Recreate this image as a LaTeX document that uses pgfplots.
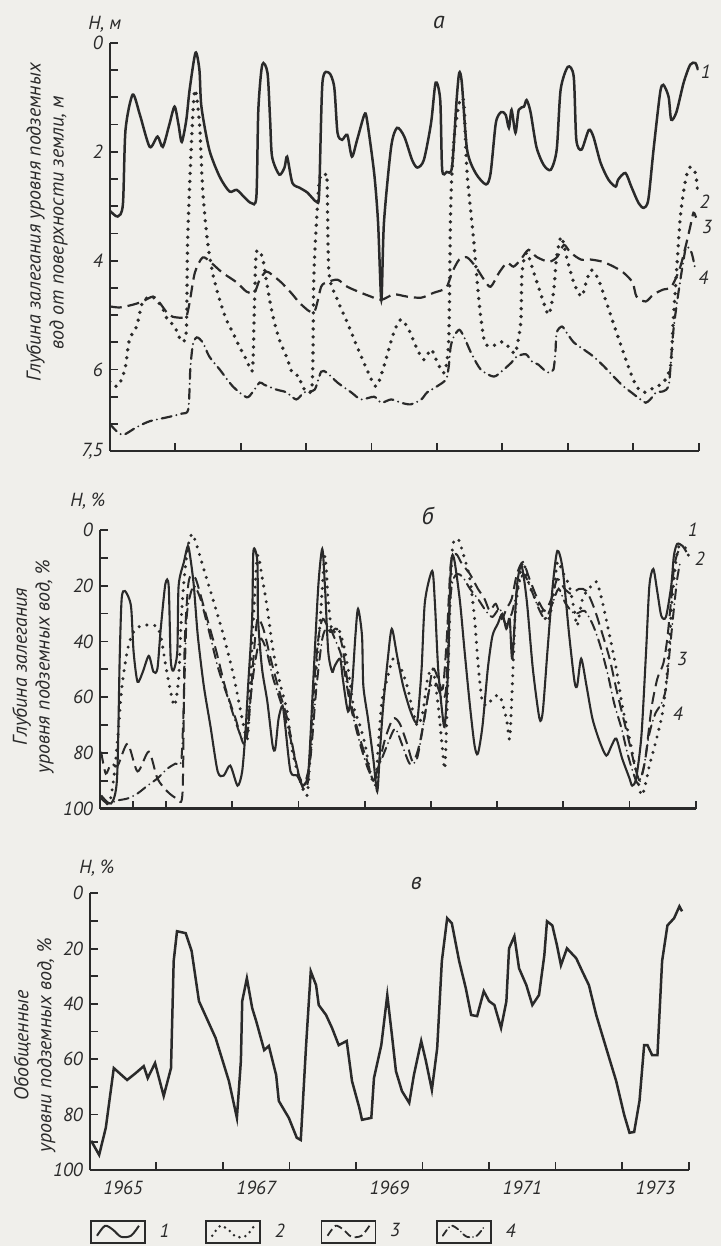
\documentclass[border=0pt]{standalone}
\usepackage{fontspec}
\setmainfont{PT Sans}
\usepackage{pgfplots}
\pgfplotsset{compat=1.18}
\definecolor{ink}{RGB}{42,42,42}
\definecolor{paper}{RGB}{240,239,235}
\begin{document}
\begin{tikzpicture}
\fill[paper] (0pt,0pt) rectangle (361pt,624pt);
\pgfplotsset{
  panel/.style={
    scale only axis, axis x line*=bottom, axis y line*=left,
    axis line style={ink, line width=1.2pt, -},
    every tick/.style={ink, line width=0.9pt},
    tick align=inside,
    major tick length=4pt, minor tick length=4pt,
    xmin=1965, xmax=1974,
    xtick={1966,1967,...,1974}, xticklabels={},
    y dir=reverse,
    tick label style={font=\fontsize{9.5}{10}\selectfont\itshape, text=ink},
    /pgf/number format/assume math mode=true,
    ylabel style={font=\fontsize{10}{11.5}\selectfont\itshape, align=center, text=ink, anchor=center},
    clip mode=individual,
  },
  s1/.style={ink, line width=1.25pt, solid, smooth, tension=0.45},
  s2/.style={ink, line width=1.9pt, line cap=round, dash pattern=on 0pt off 4pt, smooth, tension=0.45},
  s3/.style={ink, line width=1.1pt, dash pattern=on 6pt off 3pt, smooth, tension=0.45},
  s4/.style={ink, line width=1.1pt, line cap=round, dash pattern=on 5pt off 2.5pt on 0pt off 2.5pt, smooth, tension=0.45},
}
% ---------------- panel a ----------------
\begin{axis}[panel, at={(55pt,398pt)}, anchor=south west, width=295pt, height=204.5pt,
  ymin=0, ymax=7.5, ytick={0,2,4,6,7.5}, yticklabels={0,2,4,6,{7,5}},
  minor ytick={0.5,1,1.5,2.5,3,3.5,4.5,5,5.5,6.5,7},
  ylabel={Глубина залегания уровня подземных\\вод от поверхности земли, м},
  ylabel style={at={(axis description cs:-0.107,0.56)}}]
\addplot[s1] coordinates {(1965.00,3.08) (1965.12,3.19) (1965.20,2.97) (1965.24,1.60) (1965.35,0.95) (1965.46,1.32) (1965.61,1.91) (1965.73,1.72) (1965.81,1.91) (1965.91,1.50) (1965.99,1.17) (1966.05,1.50) (1966.10,1.82) (1966.17,1.41) (1966.22,0.86) (1966.31,0.18) (1966.37,0.50) (1966.40,1.17) (1966.52,1.96) (1966.68,2.46) (1966.83,2.73) (1966.94,2.70) (1967.06,2.84) (1967.16,2.94) (1967.24,2.83) (1967.27,1.23) (1967.33,0.40) (1967.41,0.55) (1967.45,1.41) (1967.48,2.09) (1967.59,2.42) (1967.67,2.29) (1967.71,2.09) (1967.79,2.57) (1967.90,2.66) (1968.02,2.75) (1968.16,2.92) (1968.20,2.75) (1968.25,0.73) (1968.35,0.55) (1968.43,0.81) (1968.48,1.65) (1968.55,1.78) (1968.63,1.69) (1968.70,2.09) (1968.78,1.78) (1968.89,1.32) (1968.93,1.41) (1969.04,2.39) (1969.10,3.30) (1969.15,4.72) (1969.19,3.30) (1969.30,1.91) (1969.39,1.56) (1969.50,1.72) (1969.62,2.15) (1969.70,2.29) (1969.80,2.15) (1969.91,1.47) (1969.98,0.73) (1970.05,1.05) (1970.08,2.33) (1970.15,2.37) (1970.23,2.28) (1970.30,1.05) (1970.34,0.55) (1970.38,0.73) (1970.46,1.96) (1970.59,2.39) (1970.75,2.60) (1970.82,2.39) (1970.90,1.47) (1970.98,1.27) (1971.05,1.32) (1971.10,1.56) (1971.14,1.23) (1971.20,1.65) (1971.25,1.23) (1971.33,1.17) (1971.37,1.05) (1971.43,1.27) (1971.52,1.91) (1971.63,2.24) (1971.74,2.33) (1971.83,1.96) (1971.89,0.86) (1972.00,0.44) (1972.09,0.62) (1972.13,1.78) (1972.21,1.96) (1972.32,1.60) (1972.39,1.72) (1972.50,2.20) (1972.62,2.51) (1972.73,2.64) (1972.77,2.51) (1972.88,2.39) (1972.97,2.64) (1973.08,2.94) (1973.16,3.03) (1973.23,2.88) (1973.31,1.96) (1973.41,0.92) (1973.46,0.77) (1973.54,0.99) (1973.58,1.41) (1973.66,1.27) (1973.77,0.73) (1973.87,0.40) (1973.95,0.37) (1973.99,0.50)};
\addplot[s2] coordinates {(1965.00,6.22) (1965.12,6.31) (1965.23,6.00) (1965.30,5.45) (1965.41,5.21) (1965.50,4.77) (1965.64,4.66) (1965.79,4.84) (1965.88,5.08) (1965.99,5.21) (1966.10,5.49) (1966.17,5.27) (1966.19,3.61) (1966.25,1.78) (1966.30,0.86) (1966.37,1.47) (1966.42,2.70) (1966.49,3.61) (1966.57,4.22) (1966.68,4.72) (1966.78,5.08) (1966.88,5.32) (1966.98,5.58) (1967.09,5.82) (1967.18,6.00) (1967.21,4.84) (1967.24,3.85) (1967.33,3.93) (1967.39,4.35) (1967.48,4.95) (1967.59,5.45) (1967.70,5.76) (1967.79,6.06) (1967.90,6.13) (1967.94,6.31) (1968.09,6.31) (1968.12,4.22) (1968.20,2.57) (1968.28,2.46) (1968.32,2.51) (1968.35,4.22) (1968.48,4.72) (1968.63,5.14) (1968.78,5.58) (1968.93,6.00) (1969.07,6.31) (1969.19,5.94) (1969.34,5.32) (1969.45,5.08) (1969.57,5.27) (1969.70,5.63) (1969.80,5.82) (1969.91,5.63) (1970.00,5.85) (1970.11,6.06) (1970.18,5.45) (1970.21,3.01) (1970.26,1.78) (1970.34,1.10) (1970.41,1.10) (1970.46,2.39) (1970.56,3.61) (1970.64,4.72) (1970.72,5.45) (1970.82,5.58) (1971.00,5.49) (1971.13,5.63) (1971.20,5.69) (1971.28,5.14) (1971.30,4.22) (1971.37,3.85) (1971.48,4.22) (1971.63,4.77) (1971.71,4.99) (1971.78,4.59) (1971.83,3.93) (1971.90,3.56) (1971.98,3.93) (1972.09,4.40) (1972.21,4.66) (1972.29,4.35) (1972.36,4.17) (1972.47,4.35) (1972.59,4.77) (1972.73,5.27) (1972.85,5.69) (1972.96,6.06) (1973.05,6.31) (1973.16,6.42) (1973.26,6.37) (1973.35,6.31) (1973.46,6.24) (1973.57,5.94) (1973.61,5.14) (1973.66,4.22) (1973.72,3.19) (1973.80,2.51) (1973.87,2.28) (1973.95,2.39) (1973.99,2.79)};
\addplot[s3] coordinates {(1965.00,4.84) (1965.15,4.86) (1965.35,4.81) (1965.50,4.75) (1965.66,4.66) (1965.76,4.77) (1965.87,4.95) (1965.96,5.03) (1966.10,5.05) (1966.17,5.03) (1966.22,4.77) (1966.30,4.22) (1966.42,3.94) (1966.55,4.04) (1966.72,4.22) (1966.94,4.40) (1967.09,4.57) (1967.21,4.59) (1967.29,4.35) (1967.39,4.20) (1967.48,4.26) (1967.62,4.40) (1967.77,4.59) (1967.93,4.81) (1968.12,4.95) (1968.23,4.48) (1968.32,4.40) (1968.48,4.35) (1968.63,4.48) (1968.84,4.59) (1968.99,4.66) (1969.15,4.72) (1969.34,4.62) (1969.54,4.66) (1969.76,4.68) (1969.95,4.59) (1970.14,4.50) (1970.23,4.22) (1970.34,3.98) (1970.46,3.94) (1970.59,4.11) (1970.72,4.35) (1970.82,4.48) (1970.95,4.22) (1971.07,4.04) (1971.17,4.11) (1971.28,3.98) (1971.40,3.80) (1971.52,3.93) (1971.71,4.02) (1971.84,3.93) (1971.94,3.71) (1972.04,3.85) (1972.20,3.98) (1972.35,3.98) (1972.53,4.02) (1972.70,4.11) (1972.85,4.22) (1972.99,4.40) (1973.05,4.66) (1973.19,4.75) (1973.31,4.62) (1973.46,4.53) (1973.57,4.50) (1973.64,4.35) (1973.72,4.11) (1973.80,3.74) (1973.87,3.38) (1973.92,3.12) (1973.96,3.21)};
\addplot[s4] coordinates {(1965.00,7.00) (1965.11,7.14) (1965.21,7.20) (1965.41,7.06) (1965.61,6.95) (1965.87,6.88) (1966.10,6.81) (1966.20,6.73) (1966.23,6.00) (1966.27,5.54) (1966.33,5.41) (1966.42,5.50) (1966.52,5.76) (1966.68,6.00) (1966.88,6.31) (1967.09,6.51) (1967.18,6.42) (1967.29,6.24) (1967.36,6.28) (1967.55,6.37) (1967.70,6.42) (1967.85,6.55) (1967.97,6.42) (1968.13,6.37) (1968.23,6.04) (1968.32,6.06) (1968.48,6.24) (1968.69,6.42) (1968.84,6.55) (1969.04,6.50) (1969.15,6.61) (1969.30,6.55) (1969.45,6.61) (1969.60,6.64) (1969.76,6.55) (1969.85,6.42) (1970.00,6.31) (1970.14,6.18) (1970.18,5.94) (1970.21,5.58) (1970.26,5.39) (1970.34,5.27) (1970.41,5.39) (1970.52,5.69) (1970.67,6.00) (1970.87,6.13) (1971.02,6.00) (1971.14,5.87) (1971.22,5.76) (1971.36,5.72) (1971.45,5.85) (1971.55,5.91) (1971.63,6.00) (1971.71,6.06) (1971.78,6.00) (1971.81,5.69) (1971.83,5.32) (1971.91,5.21) (1971.98,5.32) (1972.09,5.50) (1972.24,5.63) (1972.39,5.76) (1972.55,5.94) (1972.70,6.13) (1972.85,6.31) (1972.97,6.42) (1973.11,6.55) (1973.19,6.61) (1973.26,6.55) (1973.35,6.42) (1973.46,6.40) (1973.54,6.31) (1973.57,5.94) (1973.61,5.32) (1973.66,4.84) (1973.72,4.35) (1973.77,3.98) (1973.81,3.74) (1973.89,3.85) (1973.95,4.17)};
\node[font=\fontsize{9.5}{10}\selectfont\itshape, text=ink] at (axis description cs:0,1) [xshift=-2.5pt, yshift=9.5pt] {H, м};
\node[font=\fontsize{12}{13}\selectfont\itshape, text=ink] at (axis description cs:0.559,1) [yshift=10pt] {а};
\node[font=\fontsize{9.5}{10}\selectfont\itshape, text=ink] at (axis description cs:1.012,0.929) {1};
\node[font=\fontsize{9.5}{10}\selectfont\itshape, text=ink] at (axis description cs:1.010,0.611) {2};
\node[font=\fontsize{9.5}{10}\selectfont\itshape, text=ink] at (axis description cs:1.014,0.548) {3};
\node[font=\fontsize{9.5}{10}\selectfont\itshape, text=ink] at (axis description cs:1.008,0.425) {4};
\end{axis}
% ---------------- panel b ----------------
\begin{axis}[panel, at={(50pt,219pt)}, anchor=south west, width=298.5pt, height=139.5pt,
  ymin=0, ymax=100, ytick={0,20,...,100}, minor ytick={10,30,...,90},
  xtick={1965.5,1966,1967,...,1974},
  ylabel={Глубина залегания\\уровня подземных вод, \%},
  ylabel style={at={(axis description cs:-0.112,0.51)}}]
\addplot[s1, line width=1.05pt] coordinates {(1965.02,95.3) (1965.17,98.2) (1965.26,89.2) (1965.30,46.2) (1965.33,24.7) (1965.38,21.9) (1965.47,27.2) (1965.51,43.7) (1965.57,54.5) (1965.65,50.9) (1965.74,45.2) (1965.81,50.9) (1965.87,49.8) (1965.92,35.5) (1965.99,19.4) (1966.04,20.1) (1966.07,46.2) (1966.11,50.5) (1966.17,43.7) (1966.19,20.1) (1966.27,11.5) (1966.33,5.7) (1966.37,10.4) (1966.42,20.1) (1966.48,38.0) (1966.57,55.9) (1966.67,70.3) (1966.78,86.7) (1966.87,88.2) (1966.97,84.6) (1967.08,91.8) (1967.15,86.7) (1967.20,72.4) (1967.24,55.9) (1967.30,31.9) (1967.32,7.5) (1967.38,11.5) (1967.39,31.9) (1967.45,49.8) (1967.53,61.6) (1967.61,77.4) (1967.65,78.5) (1967.70,67.7) (1967.76,63.1) (1967.80,70.3) (1967.88,86.7) (1967.98,88.2) (1968.07,91.8) (1968.15,86.7) (1968.22,55.9) (1968.30,20.1) (1968.36,6.8) (1968.40,20.1) (1968.45,43.7) (1968.51,50.9) (1968.55,48.7) (1968.63,46.2) (1968.67,53.4) (1968.75,65.2) (1968.81,55.9) (1968.86,38.0) (1968.90,28.3) (1968.96,38.0) (1968.98,55.9) (1969.05,67.7) (1969.13,82.1) (1969.19,93.9) (1969.23,79.6) (1969.28,63.1) (1969.35,46.2) (1969.41,35.5) (1969.49,45.2) (1969.58,55.9) (1969.68,64.2) (1969.76,68.8) (1969.80,67.7) (1969.86,49.8) (1969.91,25.8) (1970.02,14.7) (1970.06,25.8) (1970.11,49.8) (1970.17,65.2) (1970.21,70.3) (1970.26,49.8) (1970.29,20.1) (1970.32,9.3) (1970.36,11.5) (1970.44,25.8) (1970.51,43.7) (1970.59,63.1) (1970.66,77.4) (1970.71,80.3) (1970.78,70.3) (1970.86,49.8) (1970.93,38.0) (1971.01,33.7) (1971.08,30.1) (1971.14,35.5) (1971.19,31.9) (1971.23,46.2) (1971.30,20.1) (1971.37,12.9) (1971.45,25.8) (1971.54,49.8) (1971.64,67.7) (1971.69,65.2) (1971.76,43.7) (1971.84,20.1) (1971.91,7.5) (1971.99,14.0) (1972.09,38.0) (1972.17,54.5) (1972.21,55.9) (1972.27,46.2) (1972.35,55.9) (1972.44,67.7) (1972.55,76.0) (1972.65,81.0) (1972.73,77.4) (1972.80,74.9) (1972.89,82.1) (1973.00,89.2) (1973.04,91.8) (1973.10,89.2) (1973.18,73.8) (1973.25,43.7) (1973.30,20.1) (1973.36,14.0) (1973.42,22.2) (1973.48,30.8) (1973.55,31.2) (1973.63,20.1) (1973.67,9.3) (1973.72,5.0) (1973.80,5.7) (1973.86,7.9)};
\addplot[s2, line width=1.7pt] coordinates {(1965.02,96.4) (1965.14,98.2) (1965.21,89.2) (1965.27,74.9) (1965.33,57.0) (1965.42,42.7) (1965.51,36.6) (1965.62,34.4) (1965.77,34.1) (1965.87,34.8) (1965.93,39.1) (1965.99,48.0) (1966.07,58.1) (1966.13,63.1) (1966.19,53.4) (1966.23,31.9) (1966.28,15.8) (1966.34,5.0) (1966.40,1.4) (1966.48,6.8) (1966.57,14.0) (1966.72,25.8) (1966.87,38.0) (1967.02,52.3) (1967.15,67.7) (1967.23,74.9) (1967.27,55.9) (1967.32,31.9) (1967.38,9.3) (1967.45,16.8) (1967.53,28.3) (1967.62,43.7) (1967.73,55.9) (1967.83,65.2) (1967.91,79.6) (1968.03,90.3) (1968.13,95.3) (1968.18,79.6) (1968.25,55.9) (1968.33,31.9) (1968.40,9.3) (1968.45,25.8) (1968.51,36.6) (1968.60,35.5) (1968.67,40.1) (1968.75,49.8) (1968.83,63.1) (1968.93,70.3) (1969.01,77.4) (1969.08,86.7) (1969.16,91.8) (1969.20,79.6) (1969.26,61.6) (1969.34,53.4) (1969.43,46.2) (1969.53,48.7) (1969.64,55.9) (1969.73,65.2) (1969.80,70.3) (1969.88,65.2) (1969.95,53.4) (1970.03,49.8) (1970.11,63.1) (1970.17,77.4) (1970.21,85.7) (1970.24,67.7) (1970.29,25.8) (1970.33,5.7) (1970.41,3.2) (1970.48,7.9) (1970.59,17.6) (1970.66,31.9) (1970.71,47.3) (1970.77,60.6) (1970.84,63.1) (1970.93,60.6) (1971.04,59.5) (1971.14,67.7) (1971.19,74.9) (1971.23,55.9) (1971.27,31.9) (1971.31,22.2) (1971.39,11.5) (1971.49,20.1) (1971.60,25.8) (1971.69,29.4) (1971.76,33.0) (1971.84,25.8) (1971.91,11.5) (1971.99,15.1) (1972.09,20.1) (1972.17,29.4) (1972.21,34.4) (1972.29,24.7) (1972.39,21.1) (1972.50,18.6) (1972.59,25.8) (1972.70,38.0) (1972.80,49.8) (1972.89,63.1) (1973.00,74.9) (1973.10,86.7) (1973.18,95.3) (1973.25,90.3) (1973.30,84.6) (1973.37,78.5) (1973.42,73.8) (1973.49,66.7) (1973.55,55.9) (1973.60,41.6) (1973.64,25.8) (1973.70,11.5) (1973.75,5.7) (1973.86,6.8) (1973.90,10.4)};
\addplot[s3, line width=1pt] coordinates {(1965.02,79.6) (1965.09,87.5) (1965.17,83.9) (1965.27,84.6) (1965.42,76.7) (1965.57,86.7) (1965.74,79.6) (1965.87,89.2) (1966.02,93.9) (1966.17,96.4) (1966.25,93.9) (1966.28,42.7) (1966.33,21.1) (1966.37,16.5) (1966.45,17.6) (1966.60,30.1) (1966.75,42.7) (1966.90,57.0) (1967.05,67.7) (1967.17,76.7) (1967.24,71.3) (1967.32,46.2) (1967.38,31.9) (1967.47,35.5) (1967.58,46.2) (1967.70,57.0) (1967.83,67.7) (1967.95,82.1) (1968.07,92.8) (1968.15,89.2) (1968.22,60.6) (1968.30,39.1) (1968.37,31.9) (1968.48,36.6) (1968.58,35.5) (1968.67,42.7) (1968.78,60.6) (1968.93,74.9) (1969.05,83.9) (1969.13,90.0) (1969.20,85.7) (1969.31,74.9) (1969.43,67.7) (1969.53,69.5) (1969.64,76.7) (1969.73,83.2) (1969.83,76.7) (1969.95,60.6) (1970.03,49.8) (1970.11,53.4) (1970.18,57.0) (1970.24,39.1) (1970.30,12.2) (1970.38,8.6) (1970.47,12.2) (1970.59,15.8) (1970.71,21.1) (1970.81,24.7) (1970.89,29.0) (1970.98,26.5) (1971.07,31.9) (1971.14,28.3) (1971.22,24.7) (1971.30,15.8) (1971.39,11.5) (1971.49,17.6) (1971.61,24.7) (1971.72,29.0) (1971.82,24.7) (1971.91,17.6) (1972.02,21.1) (1972.12,22.9) (1972.24,21.1) (1972.35,21.9) (1972.47,28.3) (1972.59,37.3) (1972.70,46.2) (1972.80,57.0) (1972.89,65.9) (1973.00,76.7) (1973.09,85.7) (1973.16,90.0) (1973.24,82.1) (1973.33,64.2) (1973.42,53.4) (1973.51,48.0) (1973.57,39.1) (1973.63,24.7) (1973.67,14.0) (1973.72,8.6) (1973.78,6.1)};
\addplot[s4, line width=1pt] coordinates {(1965.02,96.4) (1965.12,98.2) (1965.27,97.1) (1965.42,96.4) (1965.57,94.6) (1965.72,91.8) (1965.87,89.2) (1966.02,85.7) (1966.14,83.9) (1966.23,82.8) (1966.27,60.6) (1966.31,31.9) (1966.37,22.9) (1966.43,20.1) (1966.52,24.7) (1966.64,35.5) (1966.79,49.8) (1966.94,60.6) (1967.06,69.5) (1967.17,75.6) (1967.24,67.7) (1967.33,49.8) (1967.42,39.1) (1967.51,42.7) (1967.62,53.4) (1967.74,62.4) (1967.88,74.9) (1968.00,87.5) (1968.09,91.0) (1968.18,82.1) (1968.27,57.0) (1968.36,39.1) (1968.45,34.4) (1968.55,39.1) (1968.66,46.2) (1968.78,62.4) (1968.93,76.7) (1969.05,85.7) (1969.14,89.2) (1969.23,83.9) (1969.35,76.7) (1969.46,71.3) (1969.56,76.7) (1969.68,83.9) (1969.79,82.1) (1969.89,69.5) (1969.98,57.0) (1970.08,55.2) (1970.17,60.6) (1970.23,57.0) (1970.27,31.9) (1970.32,19.4) (1970.39,15.8) (1970.48,16.8) (1970.59,21.1) (1970.71,24.7) (1970.83,29.0) (1970.93,31.2) (1971.04,28.3) (1971.13,33.7) (1971.22,30.1) (1971.31,21.1) (1971.40,15.8) (1971.51,21.1) (1971.63,28.3) (1971.73,31.9) (1971.84,26.2) (1971.93,21.1) (1972.03,26.2) (1972.17,30.1) (1972.32,29.0) (1972.44,33.7) (1972.55,40.9) (1972.67,51.6) (1972.77,62.4) (1972.88,71.3) (1972.97,80.3) (1973.06,87.5) (1973.13,91.0) (1973.21,85.7) (1973.30,73.1) (1973.39,65.9) (1973.48,62.4) (1973.55,57.0) (1973.61,42.7) (1973.67,28.3) (1973.72,17.6) (1973.76,12.2)};
\node[font=\fontsize{9.5}{10}\selectfont\itshape, text=ink] at (axis description cs:0,1) [xshift=-6pt, yshift=14.5pt] {H, \%};
\node[font=\fontsize{12}{13}\selectfont\itshape, text=ink] at (axis description cs:0.55,1) [yshift=7pt] {б};
\node[font=\fontsize{9.5}{10}\selectfont\itshape, text=ink] at (axis description cs:0.995,1.0) {1};
\node[font=\fontsize{9.5}{10}\selectfont\itshape, text=ink] at (axis description cs:1.007,0.896) {2};
\node[font=\fontsize{9.5}{10}\selectfont\itshape, text=ink] at (axis description cs:0.977,0.538) {3};
\node[font=\fontsize{9.5}{10}\selectfont\itshape, text=ink] at (axis description cs:0.970,0.341) {4};
\end{axis}
% ---------------- panel c ----------------
\begin{axis}[panel, at={(45pt,38pt)}, anchor=south west, width=300pt, height=138.5pt,
  ymin=0, ymax=100, ytick={0,20,...,100}, minor ytick={10,30,...,90},
  extra x ticks={1965.5,1967.5,1969.5,1971.5,1973.5},
  extra x tick labels={1965,1967,1969,1971,1973},
  extra x tick style={tick style={draw=none}, tick label style={yshift=-2pt}},
  ylabel={Обобщенные\\уровни подземных вод, \%},
  ylabel style={at={(axis description cs:-0.092,0.45)}},
  legend columns=4,
  legend style={at={(axis description cs:0,-0.224)}, anchor=west, draw=none, fill=none,
    inner xsep=0pt, font=\fontsize{9.5}{10}\selectfont\itshape, text=ink,
    /tikz/every odd column/.append style={column sep=5pt},
    /tikz/every even column/.append style={column sep=16pt}},
  legend image code/.code={
    \draw[ink, line width=0.8pt, solid] (0pt,-5.5pt) rectangle (27pt,5.5pt);
    \draw[#1, smooth] plot coordinates {(3pt,-2pt) (7pt,3pt) (11pt,1pt) (15pt,-2.5pt) (20pt,-2pt) (24pt,3pt)};
  }]
\addplot[ink, line width=1.25pt, forget plot] coordinates {(1965.02,89.5) (1965.14,94.6) (1965.24,84.8) (1965.36,63.2) (1965.56,67.5) (1965.69,65.0) (1965.81,62.5) (1965.87,66.8) (1965.98,61.4) (1966.11,73.3) (1966.22,63.2) (1966.26,24.5) (1966.31,13.7) (1966.44,14.4) (1966.53,20.9) (1966.64,39.0) (1966.89,52.3) (1967.09,67.9) (1967.21,81.2) (1967.27,60.6) (1967.29,39.0) (1967.36,30.7) (1967.44,41.5) (1967.50,46.2) (1967.62,56.7) (1967.69,55.2) (1967.80,65.7) (1967.84,75.1) (1967.99,81.2) (1968.11,88.4) (1968.17,89.2) (1968.25,54.9) (1968.32,28.2) (1968.40,33.2) (1968.44,40.4) (1968.55,44.0) (1968.64,48.7) (1968.74,54.9) (1968.86,53.4) (1968.94,67.9) (1969.05,77.6) (1969.09,81.9) (1969.23,81.2) (1969.27,66.8) (1969.38,54.9) (1969.47,36.8) (1969.54,51.3) (1969.60,64.3) (1969.69,71.5) (1969.80,75.8) (1969.87,65.7) (1969.98,53.4) (1970.05,60.6) (1970.14,71.1) (1970.22,56.0) (1970.29,24.5) (1970.37,9.0) (1970.44,10.8) (1970.55,24.5) (1970.65,34.3) (1970.73,44.0) (1970.82,44.4) (1970.92,35.4) (1971.00,39.0) (1971.08,40.4) (1971.18,48.7) (1971.26,39.0) (1971.30,19.9) (1971.38,15.5) (1971.45,27.1) (1971.56,33.2) (1971.65,40.4) (1971.75,36.8) (1971.83,22.4) (1971.87,10.1) (1971.95,11.6) (1972.02,18.8) (1972.08,26.0) (1972.17,19.9) (1972.31,23.5) (1972.40,28.2) (1972.50,33.2) (1972.61,44.0) (1972.76,56.0) (1972.91,67.9) (1973.03,80.1) (1973.11,86.6) (1973.18,86.3) (1973.26,75.1) (1973.33,54.9) (1973.38,54.9) (1973.45,58.5) (1973.53,58.5) (1973.60,24.5) (1973.68,11.6) (1973.78,9.0) (1973.86,4.7) (1973.90,6.5)};
\addlegendimage{ink, line width=1pt, solid}
\addlegendentry{1}
\addlegendimage{ink, line width=1.4pt, line cap=round, dash pattern=on 0pt off 3pt}
\addlegendentry{2}
\addlegendimage{ink, line width=0.9pt, dash pattern=on 4pt off 2pt}
\addlegendentry{3}
\addlegendimage{ink, line width=0.9pt, line cap=round, dash pattern=on 3.5pt off 1.8pt on 0pt off 1.8pt}
\addlegendentry{4}
\node[font=\fontsize{9.5}{10}\selectfont\itshape, text=ink] at (axis description cs:0,1) [xshift=3.5pt, yshift=12.5pt] {H, \%};
\node[font=\fontsize{12}{13}\selectfont\itshape, text=ink] at (axis description cs:0.545,1) [yshift=5pt] {в};
\end{axis}
\end{tikzpicture}
\end{document}
